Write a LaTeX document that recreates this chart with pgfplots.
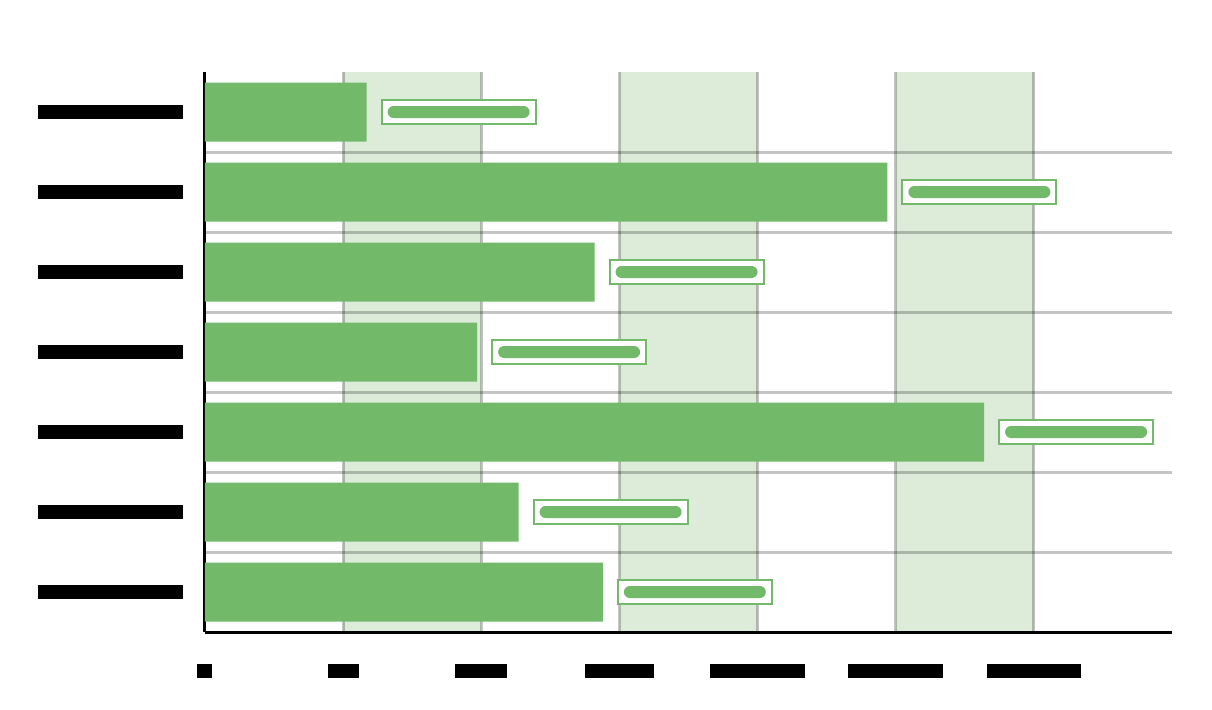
\documentclass[border=0pt]{standalone}
\usepackage{pgfplots}
\pgfplotsset{compat=1.18}
\definecolor{barc}{RGB}{114,185,106}
\definecolor{bandc}{RGB}{220,236,217}
\newcommand{\blk}[1]{\rule{#1}{7pt}}
% axis lines drawn above the bars, grid below them
\pgfplotsset{layers/barlayers/.define layer set={
  axis background, axis grid, axis ticks, pre main, main,
  axis lines, axis tick labels, axis descriptions, axis foreground}{}}
\begin{document}
\begin{tikzpicture}
\begin{axis}[
  at={(0,0)}, anchor=south west,
  scale only axis, width=483.5pt, height=280pt,
  set layers=barlayers,
  xmin=0, xmax=7, ymin=0.5, ymax=7.5,
  axis x line*=bottom, axis y line*=left,
  axis line style={line width=1.5pt, -},
  xtick={0,...,6}, ytick={1,...,7},
  minor ytick={1.5,2.5,...,6.5},
  major tick length=0pt, minor tick length=0pt,
  xmajorgrids, yminorgrids,
  grid style={black, opacity=0.23, line width=1.5pt},
  minor grid style={black, opacity=0.23, line width=1.5pt},
  xticklabels={\blk{7.5pt},\blk{15.5pt},\blk{26pt},\blk{34.5pt},\blk{47.5pt},\blk{47.5pt},\blk{47pt}},
  yticklabels={\blk{72.5pt},\blk{72.5pt},\blk{72.5pt},\blk{72.5pt},\blk{72.5pt},\blk{72.5pt},\blk{72.5pt}},
  xticklabel style={inner sep=0pt, anchor=north, yshift=-16pt},
  yticklabel style={inner sep=0pt, anchor=east, xshift=-11pt},
]
% shaded bands behind the grid
\addplot[on layer=axis background, fill=bandc, draw=none] coordinates {(1,0.5) (1,7.5) (2,7.5) (2,0.5) (1,0.5)};
\addplot[on layer=axis background, fill=bandc, draw=none] coordinates {(3,0.5) (3,7.5) (4,7.5) (4,0.5) (3,0.5)};
\addplot[on layer=axis background, fill=bandc, draw=none] coordinates {(5,0.5) (5,7.5) (6,7.5) (6,0.5) (5,0.5)};
% bars, top category at y=7
\addplot[xbar, bar width=29.5pt, fill=barc, draw=none,
  nodes near coords={\rule{71pt}{0pt}\rule{0pt}{6pt}},
  every node near coord/.append style={anchor=west, xshift=7.5pt, draw=barc, line width=1pt,
    fill=white, inner sep=3pt, outer sep=0pt,
    path picture={\fill[barc, rounded corners=3pt]
      ([shift={(3pt,3pt)}]path picture bounding box.south west) rectangle
      ([shift={(-3pt,-3pt)}]path picture bounding box.north east);}}]
  coordinates {(1.17,7) (4.94,6) (2.82,5) (1.97,4) (5.64,3) (2.27,2) (2.88,1)};
\end{axis}
% page frame matching the reference canvas
\path (-102.5pt,-38.5pt) rectangle (503.5pt,316pt);
\end{tikzpicture}
\end{document}
